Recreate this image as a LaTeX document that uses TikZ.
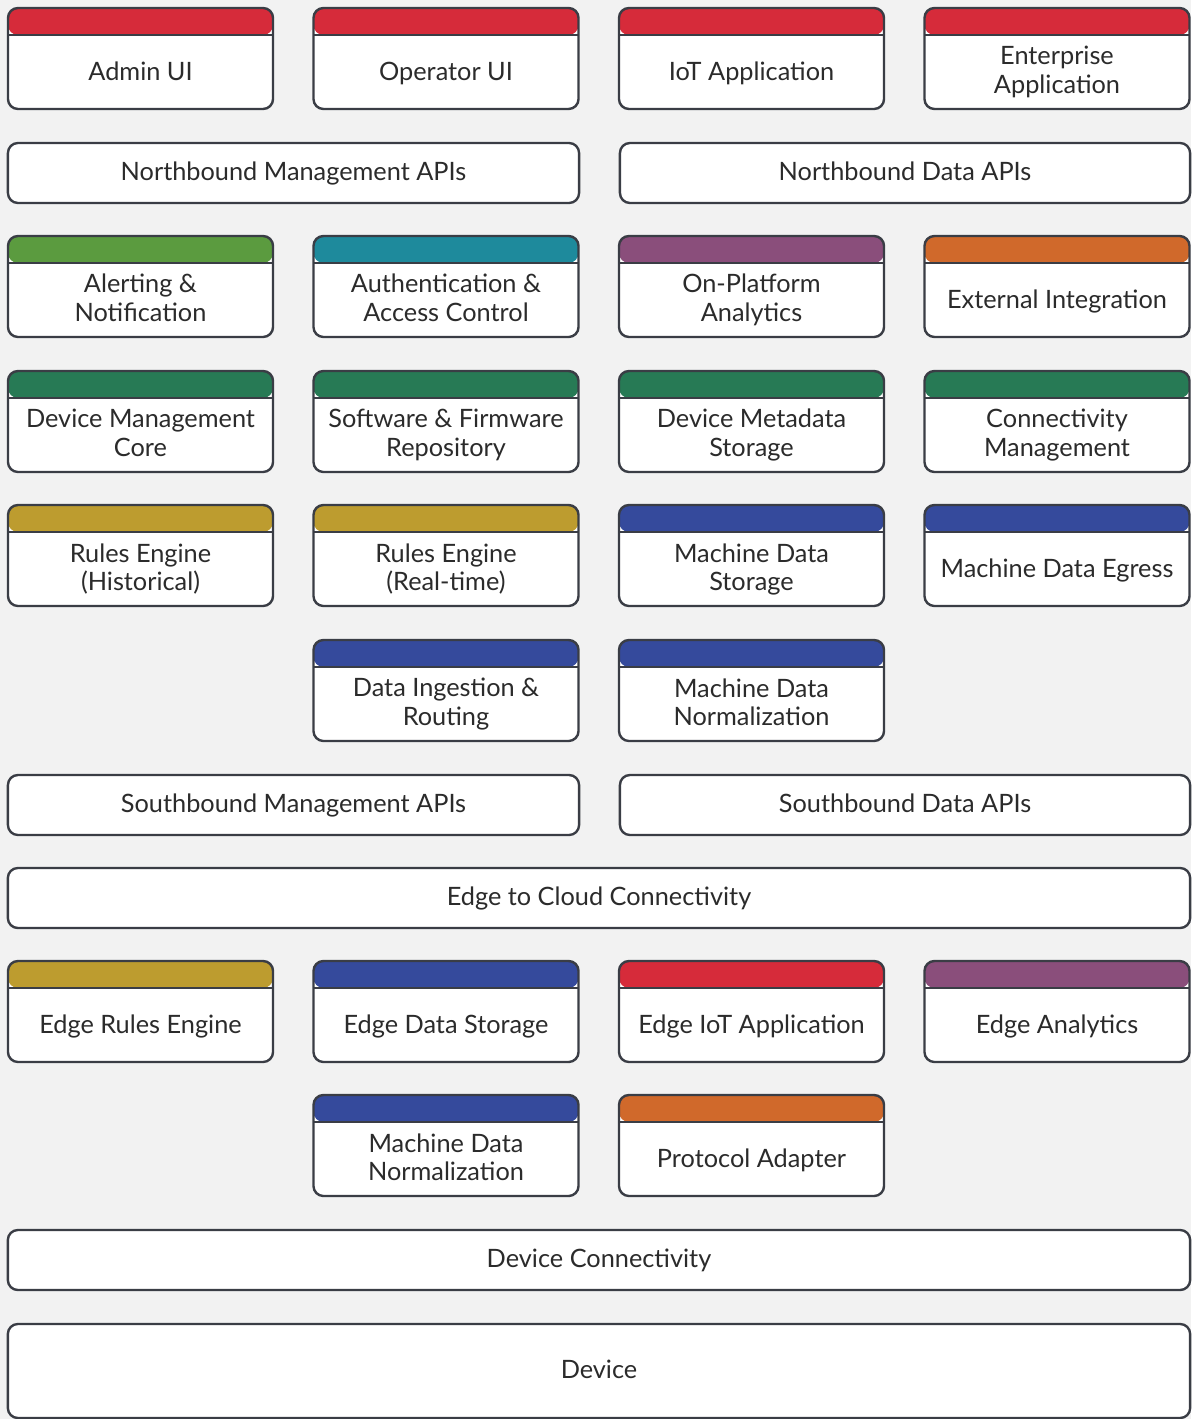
\documentclass[tikz,border=0pt]{standalone}
\usepackage{fontspec}
\setmainfont{Lato}

\definecolor{bggray}{HTML}{F2F2F2}
\definecolor{edgegray}{HTML}{3A3D45}
\definecolor{txtgray}{HTML}{2B2B2B}
\definecolor{hdrred}{HTML}{D62B3A}
\definecolor{hdrgreen}{HTML}{5B9B3F}
\definecolor{hdrteal}{HTML}{1E8A9C}
\definecolor{hdrpurple}{HTML}{8A4E7B}
\definecolor{hdrorange}{HTML}{D0692B}
\definecolor{hdrdkgreen}{HTML}{277A55}
\definecolor{hdrgold}{HTML}{BD9C2F}
\definecolor{hdrblue}{HTML}{354A9C}

\tikzset{
    box/.style={draw=edgegray, line width=1.7pt, rounded corners=0.25cm, fill=white, inner sep=0pt},
    modbox/.style={box, minimum width=6.625cm, minimum height=2.525cm},
    hdr/.style={path picture={
        \fill[#1] (path picture bounding box.north west) rectangle ([yshift=-0.675cm]path picture bounding box.north east);
        \draw[edgegray, line width=1.7pt] ([yshift=-0.675cm]path picture bounding box.north west) -- ([yshift=-0.675cm]path picture bounding box.north east);
    }},
    boxfont/.style={font=\fontsize{18}{20.6}\selectfont, text=txtgray},
    boxtext/.style={boxfont, align=center, inner sep=0pt, execute at begin node=\strut, execute at end node=\strut},
    layer/.style={box, boxfont, minimum height=1.5cm, text height=17.2pt, text depth=6.2pt},
}

% module box: name, x, y (centre, px), header colour, text
\newcommand{\modblock}[5]{%
    \node[modbox, hdr=#4] (#1) at (#2,#3) {};
    \node[boxtext] (#1-txt) at ([yshift=-0.4cm]#1.center) {#5};
}

\begin{document}
\begin{tikzpicture}[x=0.025cm, y=-0.025cm]
    \fill[bggray] (0,0) rectangle (1191,1419);
    \useasboundingbox (0,0) rectangle (1191,1419);

    % applications
    \modblock{adminui}{140.5}{58.5}{hdrred}{Admin UI}
    \modblock{operui}{446}{58.5}{hdrred}{Operator UI}
    \modblock{iotapp}{751.5}{58.5}{hdrred}{IoT Application}
    \modblock{entapp}{1057}{58.5}{hdrred}{Enterprise\\Application}

    % northbound
    \node[layer, minimum width=14.275cm] (nbmgmt) at (293.5,173) {Northbound Management APIs};
    \node[layer, minimum width=14.25cm] (nbdata) at (905,173) {Northbound Data APIs};

    % platform services
    \modblock{alerting}{140.5}{286.5}{hdrgreen}{Alerting \&\\Notification}
    \modblock{authac}{446}{286.5}{hdrteal}{Authentication \&\\Access Control}
    \modblock{analytics}{751.5}{286.5}{hdrpurple}{On-Platform\\Analytics}
    \modblock{extint}{1057}{286.5}{hdrorange}{External Integration}

    \modblock{devmgmt}{140.5}{421.5}{hdrdkgreen}{Device Management\\Core}
    \modblock{swrepo}{446}{421.5}{hdrdkgreen}{Software \& Firmware\\Repository}
    \modblock{devmeta}{751.5}{421.5}{hdrdkgreen}{Device Metadata\\Storage}
    \modblock{connmgmt}{1057}{421.5}{hdrdkgreen}{Connectivity\\Management}

    \modblock{ruleshist}{140.5}{555.5}{hdrgold}{Rules Engine\\(Historical)}
    \modblock{rulesrt}{446}{555.5}{hdrgold}{Rules Engine\\(Real-time)}
    \modblock{mdstore}{751.5}{555.5}{hdrblue}{Machine Data\\Storage}
    \modblock{mdegress}{1057}{555.5}{hdrblue}{Machine Data Egress}

    \modblock{ingest}{446}{690.5}{hdrblue}{Data Ingestion \&\\Routing}
    \modblock{mdnorm}{751.5}{690.5}{hdrblue}{Machine Data\\Normalization}

    % southbound
    \node[layer, minimum width=14.275cm] (sbmgmt) at (293.5,805) {Southbound Management APIs};
    \node[layer, minimum width=14.25cm] (sbdata) at (905,805) {Southbound Data APIs};

    \node[layer, minimum width=29.55cm] (e2c) at (599,898) {Edge to Cloud Connectivity};

    % edge
    \modblock{edgerules}{140.5}{1011.5}{hdrgold}{Edge Rules Engine}
    \modblock{edgestore}{446}{1011.5}{hdrblue}{Edge Data Storage}
    \modblock{edgeiot}{751.5}{1011.5}{hdrred}{Edge IoT Application}
    \modblock{edgeanalytics}{1057}{1011.5}{hdrpurple}{Edge Analytics}

    \modblock{edgenorm}{446}{1145.5}{hdrblue}{Machine Data\\Normalization}
    \modblock{protoadapt}{751.5}{1145.5}{hdrorange}{Protocol Adapter}

    \node[layer, minimum width=29.55cm] (devconn) at (599,1260) {Device Connectivity};
    \node[layer, minimum width=29.55cm, minimum height=2.35cm] (device) at (599,1371) {Device};
\end{tikzpicture}
\end{document}
